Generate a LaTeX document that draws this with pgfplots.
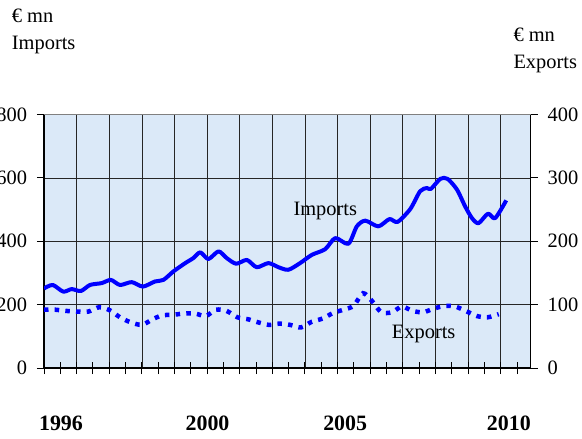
\documentclass[border=0pt]{standalone}
\usepackage{pgfplots}
\pgfplotsset{compat=1.18}
\usepackage{pgfplotstable}
\usepackage{fontspec}
\setmainfont{Liberation Serif}

\definecolor{bgblue}{RGB}{219,233,248}
\definecolor{lineblue}{RGB}{0,0,255}

% x: years from the first gridline (1996), y: EUR mn
\pgfplotstableread{
t v
0.00 251
0.27 262
0.59 241
0.85 249
1.13 243
1.41 262
1.77 268
2.05 278
2.33 262
2.69 271
3.03 257
3.40 273
3.66 278
3.97 305
4.33 331
4.58 347
4.79 365
5.04 344
5.35 368
5.60 347
5.89 329
6.22 341
6.52 318
6.88 331
7.19 318
7.49 310
7.85 331
8.21 357
8.62 375
8.93 410
9.33 392
9.59 447
9.85 465
10.25 447
10.59 470
10.84 461
11.23 502
11.53 558
11.74 568
11.86 565
12.15 597
12.37 597
12.66 563
12.91 510
13.12 473
13.32 457
13.61 487
13.83 473
14.17 529
}\imports

\pgfplotstableread{
t v
0.00 92
0.34 92
0.70 90
1.05 89
1.36 89
1.70 96
2.02 91
2.33 80
2.66 72
3.00 68
3.30 76
3.61 83
3.97 84
4.29 86
4.63 86
4.96 82
5.27 92
5.60 90
5.93 80
6.25 77
6.57 72
6.90 68
7.22 70
7.55 68
7.88 64
8.21 73
8.54 78
8.87 87
9.18 92
9.49 98
9.78 118
10.05 106
10.34 88
10.67 88
10.97 97
11.30 90
11.63 88
11.96 94
12.30 98
12.61 97
12.97 89
13.27 82
13.60 80
13.94 85
}\exports

\begin{document}
\fontsize{20.5}{24}\selectfont
\begin{tikzpicture}
\path[use as bounding box] (-44bp,-71bp) rectangle (538bp,368bp);

\pgfplotsset{
  every axis/.append style={
    scale only axis, width=486.7bp, height=253.5bp,
    xmin=0, xmax=14.92,
    at={(0,0)}, anchor=south west,
    /pgf/number format/assume math mode=true,
    tick label style={font=\fontsize{20.5}{24}\selectfont},
    axis line style={black, line width=1.2bp},
    tick style={black, line width=1bp},
  },
}

% left axis, background, grid, imports
\begin{axis}[
  ymin=0, ymax=800,
  axis x line*=bottom, axis y line*=left,
  axis background/.style={fill=bgblue},
  xtick={0,1,...,14}, xticklabels={}, xtick style={draw=none},
  ytick={0,200,...,800},
  ytick align=outside, major tick length=7bp,
  yticklabel style={xshift=-3bp},
  grid=major,
  grid style={black!85, line width=0.7bp},
]
\addplot[lineblue, line width=4bp, smooth, tension=0.45, line join=round] table {\imports};
\end{axis}

% x axis ticks
\begin{axis}[
  ymin=0, ymax=1,
  axis x line*=bottom, axis y line=none,
  xtick={0,0.5,...,14.5}, xticklabels={},
  xtick align=center, major tick length=12bp,
]
\end{axis}

% right axis, exports
\begin{axis}[
  ymin=0, ymax=400,
  axis x line=none, axis y line*=right,
  ytick={0,100,...,400},
  ytick align=outside, major tick length=7bp,
  yticklabel style={anchor=west, xshift=3bp},
]
\addplot[lineblue, line width=4.5bp, smooth, tension=0.45, dash pattern=on 4.5bp off 6.2bp] table {\exports};
\end{axis}

\draw[gray, line width=1.5bp] (0,253.5bp) -- (486.7bp,253.5bp);

\node[anchor=base west, inner sep=0pt] at (-32.3bp,345.3bp) {€ mn};
\node[anchor=base west, inner sep=0pt] at (-32.3bp,318.7bp) {Imports};
\node[anchor=base west, inner sep=0pt] at (469.3bp,326.3bp) {€ mn};
\node[anchor=base west, inner sep=0pt] at (469.3bp,299.7bp) {Exports};
\node[anchor=base west, inner sep=0pt] at (249.3bp,152.3bp) {Imports};
\node[anchor=base west, inner sep=0pt] at (347.7bp,29.7bp) {Exports};

\begin{scope}[every node/.style={anchor=base, inner sep=0pt, font=\fontsize{22}{26}\selectfont\bfseries}]
\node at (17bp,-62bp) {1996};
\node at (163.5bp,-62bp) {2000};
\node at (301.2bp,-62bp) {2005};
\node at (464.8bp,-62bp) {2010};
\end{scope}
\end{tikzpicture}
\end{document}
